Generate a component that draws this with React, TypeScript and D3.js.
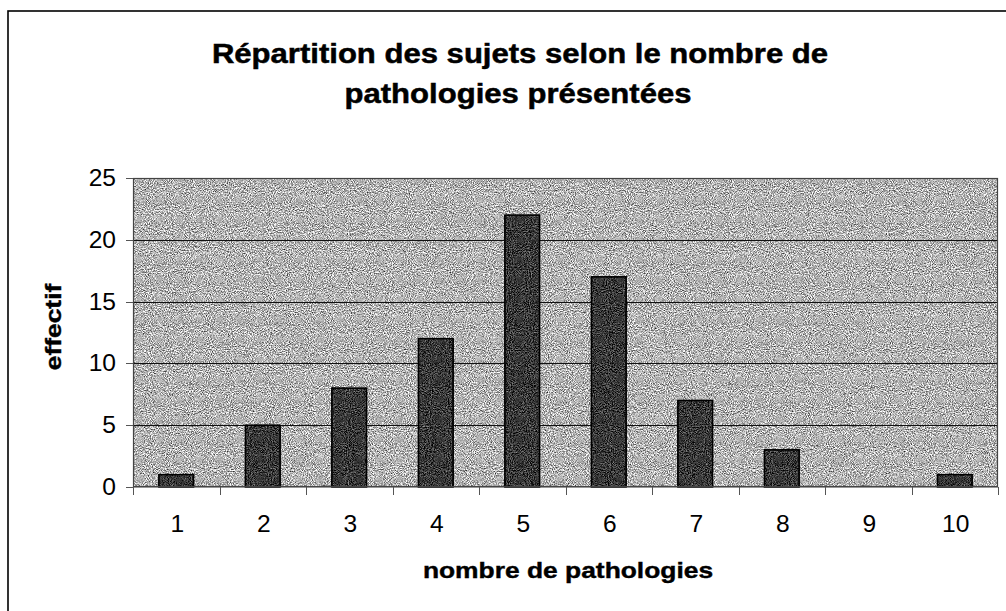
import React from 'react';
import * as d3 from 'd3';

const categories = ['1', '2', '3', '4', '5', '6', '7', '8', '9', '10'];
const counts = [1, 5, 8, 12, 22, 17, 7, 3, 0, 1];
const yTicks = [0, 5, 10, 15, 20, 25];
const titleLines = ['Répartition des sujets selon le nombre de', 'pathologies présentées'];
const xTitle = 'nombre de pathologies';
const yTitle = 'effectif';

const W = 1006;
const H = 611;
const plot = { left: 133, right: 998, top: 178, bottom: 487 };
const FONT = '"Liberation Sans", Arial, Helvetica, sans-serif';

export default function App() {
  const x = d3
    .scaleBand<string>()
    .domain(categories)
    .range([plot.left, plot.right])
    .paddingInner(0.6)
    .paddingOuter(0.3);
  const y = d3.scaleLinear().domain([0, 25]).range([plot.bottom, plot.top]);
  const step = x.step();
  const centers = categories.map((c) => (x(c) as number) + x.bandwidth() / 2);
  const xTickPos = [...centers.map((c) => c - step / 2), centers[centers.length - 1] + step / 2];

  return (
    <svg
      width={W}
      height={H}
      viewBox={`0 0 ${W} ${H}`}
      style={{ position: 'absolute', left: 0, top: 0, background: '#fff' }}
    >
      <defs>
        <filter
          id="grainLight"
          x="0"
          y="0"
          width="1"
          height="1"
          filterUnits="objectBoundingBox"
          colorInterpolationFilters="sRGB"
        >
          <feTurbulence type="fractalNoise" baseFrequency="0.95" numOctaves="2" seed="7" />
          <feColorMatrix
            type="matrix"
            values="1.5 0 0 0 -0.05  1.5 0 0 0 -0.05  1.5 0 0 0 -0.05  0 0 0 0 1"
          />
        </filter>
        <filter
          id="grainDark"
          x="0"
          y="0"
          width="1"
          height="1"
          filterUnits="objectBoundingBox"
          colorInterpolationFilters="sRGB"
        >
          <feTurbulence type="fractalNoise" baseFrequency="0.95" numOctaves="2" seed="11" />
          <feColorMatrix
            type="matrix"
            values="1.0 0 0 0 -0.28  1.0 0 0 0 -0.28  1.0 0 0 0 -0.28  0 0 0 0 1"
          />
        </filter>
      </defs>

      {/* outer chart frame (cut by the page edges) */}
      <rect x={8} y={11} width={1030} height={620} fill="none" stroke="#000" strokeWidth={1.6} />

      {/* title */}
      <g fontFamily={FONT} fontWeight="bold" fontSize={27.5} fill="#000" stroke="#000" strokeWidth={0.5} textAnchor="middle">
        <text transform="translate(520,63) scale(1.13,1)">{titleLines[0]}</text>
        <text transform="translate(518,103) scale(1.13,1)">{titleLines[1]}</text>
      </g>

      {/* plot background */}
      <rect
        x={plot.left}
        y={plot.top}
        width={plot.right - plot.left}
        height={plot.bottom - plot.top}
        fill="#b4b4b4"
      />
      <rect
        x={plot.left}
        y={plot.top}
        width={plot.right - plot.left}
        height={plot.bottom - plot.top}
        filter="url(#grainLight)"
      />

      {/* gridlines */}
      {yTicks
        .filter((t) => t > 0 && t < 25)
        .map((t) => (
          <line
            key={`g${t}`}
            x1={plot.left}
            x2={plot.right}
            y1={Math.round(y(t)) + 0.5}
            y2={Math.round(y(t)) + 0.5}
            stroke="#111"
            strokeWidth={1}
          />
        ))}

      {/* bars */}
      {categories.map((c, i) => {
        const v = counts[i];
        if (v <= 0) return null;
        const bx = x(c) as number;
        const by = y(v);
        const bh = y(0) - by;
        return (
          <g key={`b${c}`}>
            <rect x={bx} y={by} width={x.bandwidth()} height={bh} fill="#333" />
            <rect x={bx} y={by} width={x.bandwidth()} height={bh} filter="url(#grainDark)" />
            <rect
              x={bx}
              y={by}
              width={x.bandwidth()}
              height={bh}
              fill="none"
              stroke="#000"
              strokeWidth={1.6}
            />
          </g>
        );
      })}

      {/* plot border */}
      <rect
        x={plot.left + 0.5}
        y={plot.top + 0.5}
        width={plot.right - plot.left - 1}
        height={plot.bottom - plot.top - 1}
        fill="none"
        stroke="#444"
        strokeWidth={1.2}
      />

      {/* y axis ticks and labels */}
      <g fontFamily={FONT} fontSize={23} fill="#000">
        {yTicks.map((t) => (
          <g key={`y${t}`}>
            <line
              x1={plot.left - 7}
              x2={plot.left}
              y1={Math.round(y(t)) + 0.5}
              y2={Math.round(y(t)) + 0.5}
              stroke="#555"
              strokeWidth={1}
            />
            <text transform={`translate(116,${y(t) + 8}) scale(1.07,1)`} textAnchor="end">
              {t}
            </text>
          </g>
        ))}
      </g>

      {/* x axis ticks and labels */}
      <line x1={plot.left} x2={plot.right} y1={plot.bottom} y2={plot.bottom} stroke="#444" strokeWidth={1.2} />
      {xTickPos.map((p, i) => (
        <line
          key={`xt${i}`}
          x1={Math.round(p) + 0.5}
          x2={Math.round(p) + 0.5}
          y1={plot.bottom}
          y2={plot.bottom + 8}
          stroke="#555"
          strokeWidth={1}
        />
      ))}
      <g fontFamily={FONT} fontSize={23} fill="#000" textAnchor="middle">
        {categories.map((c, i) => (
          <text key={`xl${c}`} transform={`translate(${centers[i] + 1},532) scale(1.07,1)`}>
            {c}
          </text>
        ))}
      </g>

      {/* axis titles */}
      <text
        transform="translate(568,578) scale(1.2,1)"
        fontFamily={FONT}
        fontWeight="bold"
        fontSize={22}
        stroke="#000"
        strokeWidth={0.4}
        textAnchor="middle"
      >
        {xTitle}
      </text>
      <text
        transform="translate(61,327) rotate(-90) scale(1.2,1)"
        fontFamily={FONT}
        fontWeight="bold"
        fontSize={22}
        stroke="#000"
        strokeWidth={0.4}
        textAnchor="middle"
      >
        {yTitle}
      </text>
    </svg>
  );
}
